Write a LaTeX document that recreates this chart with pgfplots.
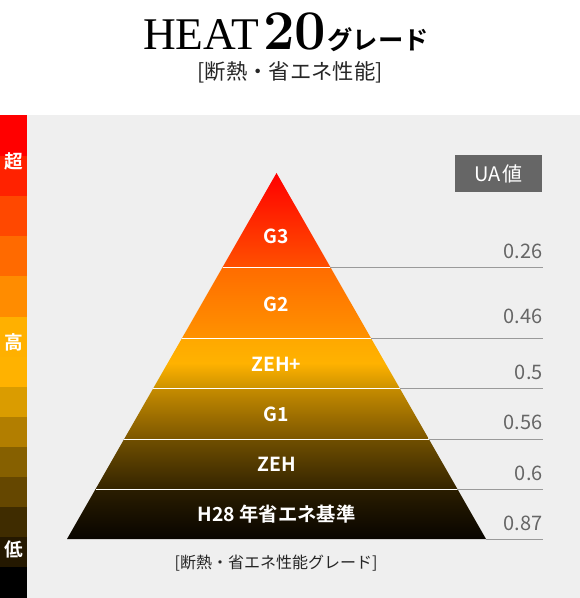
\documentclass[border=0pt]{standalone}
\usepackage{pgfplots}
\pgfplotsset{compat=1.18}
\usepackage{fontspec}
\newfontfamily\cjk{Noto Sans CJK JP}[BoldFont={Noto Sans CJK JP Bold}]
\newfontfamily\tserif{Liberation Serif}

% colour bar, top to bottom
\definecolor{s1}{HTML}{FF0000}
\definecolor{s2}{HTML}{FF2200}
\definecolor{s3}{HTML}{FF4800}
\definecolor{s4}{HTML}{FF6A00}
\definecolor{s5}{HTML}{FF8C00}
\definecolor{s6}{HTML}{FFB000}
\definecolor{s7}{HTML}{FFB200}
\definecolor{s8}{HTML}{DA9C00}
\definecolor{s9}{HTML}{B27E00}
\definecolor{s10}{HTML}{866000}
\definecolor{s11}{HTML}{654700}
\definecolor{s12}{HTML}{3F2C00}
\definecolor{s13}{HTML}{241800}
\definecolor{s14}{HTML}{000000}
\definecolor{panel}{HTML}{EFEFEF}
\definecolor{rule}{HTML}{9A9A9A}
\definecolor{val}{HTML}{666666}

\begin{document}
\begin{tikzpicture}
\begin{axis}[
  scale only axis, width=435pt, height=448.5pt,
  xmin=0, xmax=580, ymin=0, ymax=598, y dir=reverse,
  hide axis, clip=false,
  ]
  % grey panel
  \addplot[draw=none, fill=panel] coordinates {(27,115) (580,115) (580,598) (27,598)};

  % colour bar
  \addplot[draw=none, fill=s1]  coordinates {(0,115) (27,115) (27,156) (0,156)};
  \addplot[draw=none, fill=s2]  coordinates {(0,156) (27,156) (27,196) (0,196)};
  \addplot[draw=none, fill=s3]  coordinates {(0,196) (27,196) (27,236) (0,236)};
  \addplot[draw=none, fill=s4]  coordinates {(0,236) (27,236) (27,276) (0,276)};
  \addplot[draw=none, fill=s5]  coordinates {(0,276) (27,276) (27,317) (0,317)};
  \addplot[draw=none, fill=s6]  coordinates {(0,317) (27,317) (27,357) (0,357)};
  \addplot[draw=none, fill=s7]  coordinates {(0,357) (27,357) (27,387) (0,387)};
  \addplot[draw=none, fill=s8]  coordinates {(0,387) (27,387) (27,417) (0,417)};
  \addplot[draw=none, fill=s9]  coordinates {(0,417) (27,417) (27,447) (0,447)};
  \addplot[draw=none, fill=s10] coordinates {(0,447) (27,447) (27,477) (0,477)};
  \addplot[draw=none, fill=s11] coordinates {(0,477) (27,477) (27,507) (0,507)};
  \addplot[draw=none, fill=s12] coordinates {(0,507) (27,507) (27,537) (0,537)};
  \addplot[draw=none, fill=s13] coordinates {(0,537) (27,537) (27,567) (0,567)};
  \addplot[draw=none, fill=s14] coordinates {(0,567) (27,567) (27,598) (0,598)};

  % pyramid bands
  \addplot[draw=none, top color={rgb,255:red,255;green,0;blue,0}, bottom color={rgb,255:red,255;green,80;blue,0}]
    coordinates {(276.5,173) (330.3,267) (222.7,267)};
  \addplot[draw=none, top color={rgb,255:red,255;green,108;blue,0}, bottom color={rgb,255:red,255;green,146;blue,0}]
    coordinates {(222.7,267) (330.3,267) (370.9,338) (182.1,338)};
  \addplot[draw=none, top color={rgb,255:red,255;green,168;blue,0}, bottom color={rgb,255:red,205;green,146;blue,0}, middle color={rgb,255:red,255;green,178;blue,0}]
    coordinates {(182.1,338) (370.9,338) (399.6,388) (153.4,388)};
  \addplot[draw=none, top color={rgb,255:red,198;green,140;blue,0}, bottom color={rgb,255:red,124;green,86;blue,0}]
    coordinates {(153.4,388) (399.6,388) (428.8,439) (124.2,439)};
  \addplot[draw=none, top color={rgb,255:red,112;green,79;blue,0}, bottom color={rgb,255:red,52;green,36;blue,0}]
    coordinates {(124.2,439) (428.8,439) (457.4,489) (95.6,489)};
  \addplot[draw=none, top color={rgb,255:red,42;green,29;blue,0}, bottom color={rgb,255:red,8;green,4;blue,0}]
    coordinates {(95.6,489) (457.4,489) (486,539) (67,539)};

  % white dividers
  \addplot[white, line width=0.75pt] coordinates {(222.7,267) (330.3,267)};
  \addplot[white, line width=0.75pt] coordinates {(182.1,338) (370.9,338)};
  \addplot[white, line width=0.75pt] coordinates {(153.4,388) (399.6,388)};
  \addplot[white, line width=0.75pt] coordinates {(124.2,439) (428.8,439)};
  \addplot[white, line width=0.75pt] coordinates {(95.6,489) (457.4,489)};

  % grey leader rules
  \addplot[rule, line width=0.75pt] coordinates {(330.3,267) (543,267)};
  \addplot[rule, line width=0.75pt] coordinates {(370.9,338) (543,338)};
  \addplot[rule, line width=0.75pt] coordinates {(399.6,388) (543,388)};
  \addplot[rule, line width=0.75pt] coordinates {(428.8,439) (543,439)};
  \addplot[rule, line width=0.75pt] coordinates {(457.4,489) (543,489)};
  \addplot[rule, line width=0.75pt] coordinates {(486,539) (543,539)};

  % UA box
  \addplot[draw=none, fill=val] coordinates {(455,155) (542,155) (542,192) (455,192)};
  \node[white, font=\cjk\fontsize{15}{16}\selectfont] at (498.5,173.5) {UA\hspace{1pt}値};

  % titles
  \node[anchor=base, inner sep=0pt] at (286,50)
    {\tserif\fontsize{34}{36}\selectfont HEAT\hspace{3pt}\rmfamily\bfseries\fontsize{42}{44}\selectfont 20\hspace{1pt}\cjk\bfseries\fontsize{19}{20}\selectfont グレード};
  \node[font=\cjk\fontsize{16}{17}\selectfont, text=black!85] at (290,72) {[断熱・省エネ性能]};

  % grade labels
  \begin{scope}[every node/.style={white, font=\cjk\bfseries\fontsize{14.5}{16}\selectfont}]
    \node at (276.5,236) {G3};
    \node at (276.5,304) {G2};
    \node at (276.5,364) {ZEH+};
    \node at (276.5,414) {G1};
    \node at (276.5,464) {ZEH};
    \node at (276.5,514) {H28 年省エネ基準};
  \end{scope}

  % UA values
  \begin{scope}[every node/.style={anchor=east, inner sep=0pt, text=val, font=\cjk\fontsize{15}{16}\selectfont}]
    \node at (543,251) {0.26};
    \node at (543,316) {0.46};
    \node at (543,372) {0.5};
    \node at (543,422) {0.56};
    \node at (543,473) {0.6};
    \node at (543,523) {0.87};
  \end{scope}

  % bar labels
  \begin{scope}[every node/.style={white, font=\cjk\bfseries\fontsize{14}{15}\selectfont}]
    \node at (14,161) {超};
    \node at (14,342) {高};
    \node at (14,549) {低};
  \end{scope}

  \node[font=\cjk\fontsize{12}{13}\selectfont, text=black!85] at (276,563) {[断熱・省エネ性能グレード]};
\end{axis}
\pgfresetboundingbox
\path (0,0) rectangle (435pt,448.5pt);
\end{tikzpicture}
\end{document}
